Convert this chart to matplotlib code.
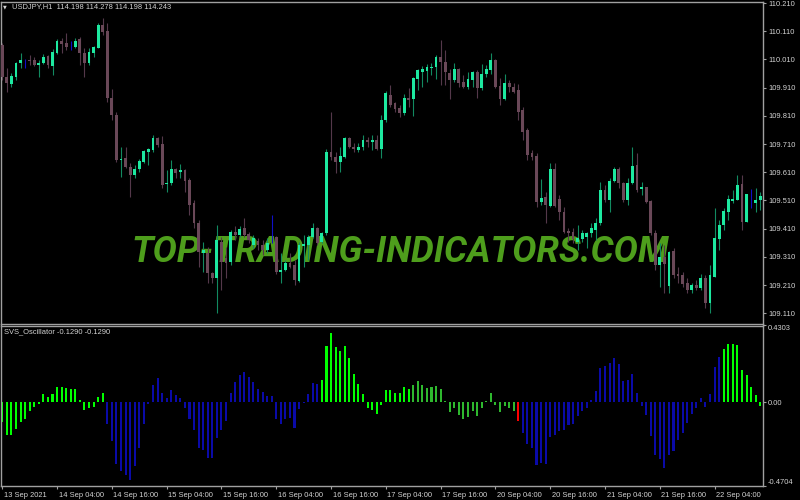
import matplotlib
matplotlib.use("Agg")
import matplotlib.pyplot as plt
import matplotlib.transforms as mtrans

# ---------------- data ----------------
opens = [110.061, 109.948, 109.923, 109.948, 109.997, 110.004, 110.008, 110.008, 109.990, 109.997,
         110.022, 109.987, 110.033, 110.075, 110.068, 110.061, 110.054, 110.083, 110.033, 109.997,
         110.033, 110.051, 110.132, 110.111, 109.873, 109.813, 109.653, 109.660, 109.628, 109.600,
         109.621, 109.646, 109.681, 109.689, 109.731, 109.710, 109.568, 109.571, 109.621, 109.610,
         109.618, 109.582, 109.500, 109.429, 109.323, 109.323, 109.252, 109.234, 109.362, 109.305,
         109.291, 109.397, 109.387, 109.412, 109.390, 109.351, 109.365, 109.351, 109.334, 109.376,
         109.380, 109.255, 109.263, 109.287, 109.280, 109.223, 109.348, 109.351, 109.380, 109.412,
         109.362, 109.394, 109.681, 109.664, 109.646, 109.664, 109.731, 109.699, 109.689, 109.699,
         109.724, 109.717, 109.724, 109.692, 109.795, 109.884, 109.855, 109.838, 109.820, 109.873,
         109.870, 109.941, 109.965, 109.969, 109.980, 109.983, 110.019, 110.001, 109.962, 109.937,
         109.976, 109.930, 109.912, 109.937, 109.965, 109.909, 109.958, 109.973, 110.008, 109.916,
         109.870, 109.926, 109.912, 109.902, 109.831, 109.760, 109.678, 109.667, 109.504, 109.522,
         109.490, 109.621, 109.515, 109.469, 109.401, 109.397, 109.362, 109.373, 109.380, 109.394,
         109.405, 109.429, 109.547, 109.511, 109.578, 109.621, 109.571, 109.511, 109.571, 109.635,
         109.550, 109.557, 109.507, 109.394, 109.280, 109.309, 109.206, 109.330, 109.248, 109.245,
         109.216, 109.191, 109.209, 109.199, 109.234, 109.145, 109.238, 109.373, 109.422, 109.469,
         109.507, 109.511, 109.568, 109.433, 109.518, 109.500, 109.511]
highs = [110.068, 109.980, 109.962, 110.001, 110.033, 110.012, 110.026, 110.019, 110.008, 110.029,
         110.026, 110.047, 110.083, 110.086, 110.104, 110.075, 110.086, 110.090, 110.051, 110.051,
         110.058, 110.139, 110.157, 110.139, 109.905, 109.823, 109.699, 109.699, 109.642, 109.635,
         109.657, 109.689, 109.696, 109.742, 109.735, 109.738, 109.618, 109.653, 109.625, 109.639,
         109.621, 109.589, 109.511, 109.440, 109.362, 109.344, 109.255, 109.422, 109.380, 109.344,
         109.405, 109.419, 109.419, 109.447, 109.397, 109.387, 109.376, 109.369, 109.376, 109.458,
         109.383, 109.323, 109.298, 109.323, 109.298, 109.362, 109.387, 109.387, 109.429, 109.415,
         109.397, 109.692, 109.823, 109.681, 109.699, 109.735, 109.735, 109.713, 109.713, 109.742,
         109.735, 109.742, 109.742, 109.813, 109.898, 109.919, 109.859, 109.848, 109.887, 109.909,
         109.948, 109.976, 109.987, 109.994, 109.997, 110.026, 110.079, 110.043, 109.976, 109.997,
         109.980, 109.955, 109.965, 109.969, 109.973, 109.994, 109.990, 110.033, 110.012, 109.944,
         109.958, 109.937, 109.926, 109.923, 109.841, 109.767, 109.689, 109.678, 109.586, 109.539,
         109.642, 109.642, 109.529, 109.486, 109.412, 109.412, 109.422, 109.405, 109.397, 109.429,
         109.447, 109.575, 109.564, 109.589, 109.628, 109.628, 109.575, 109.589, 109.699, 109.678,
         109.575, 109.557, 109.511, 109.405, 109.358, 109.351, 109.330, 109.341, 109.273, 109.255,
         109.234, 109.216, 109.227, 109.248, 109.245, 109.280, 109.483, 109.440, 109.483, 109.529,
         109.547, 109.600, 109.600, 109.532, 109.550, 109.554, 109.539]
lows = [109.937, 109.894, 109.912, 109.937, 109.980, 109.980, 109.990, 109.987, 109.948, 109.994,
        109.980, 109.955, 110.029, 110.033, 110.043, 110.043, 110.051, 109.990, 109.948, 109.990,
        110.019, 110.051, 110.097, 109.859, 109.795, 109.646, 109.593, 109.625, 109.522, 109.589,
        109.610, 109.642, 109.635, 109.681, 109.699, 109.554, 109.539, 109.564, 109.589, 109.589,
        109.539, 109.458, 109.412, 109.273, 109.255, 109.216, 109.216, 109.110, 109.191, 109.234,
        109.280, 109.369, 109.380, 109.380, 109.358, 109.341, 109.334, 109.316, 109.323, 109.358,
        109.248, 109.216, 109.259, 109.270, 109.209, 109.220, 109.273, 109.298, 109.376, 109.351,
        109.358, 109.387, 109.653, 109.607, 109.610, 109.660, 109.696, 109.681, 109.681, 109.689,
        109.699, 109.689, 109.689, 109.660, 109.788, 109.841, 109.823, 109.806, 109.813, 109.841,
        109.809, 109.902, 109.912, 109.930, 109.955, 109.941, 109.919, 109.919, 109.870, 109.930,
        109.912, 109.909, 109.905, 109.912, 109.873, 109.902, 109.948, 109.958, 109.909, 109.848,
        109.866, 109.894, 109.891, 109.795, 109.724, 109.653, 109.653, 109.486, 109.493, 109.429,
        109.486, 109.486, 109.440, 109.394, 109.362, 109.358, 109.334, 109.362, 109.341, 109.380,
        109.369, 109.422, 109.504, 109.469, 109.575, 109.554, 109.504, 109.493, 109.568, 109.539,
        109.529, 109.500, 109.387, 109.263, 109.202, 109.181, 109.181, 109.234, 109.216, 109.202,
        109.181, 109.181, 109.191, 109.191, 109.128, 109.110, 109.238, 109.334, 109.405, 109.440,
        109.500, 109.511, 109.405, 109.433, 109.483, 109.469, 109.476]
closes = [109.948, 109.926, 109.951, 109.997, 110.008, 110.004, 110.004, 109.990, 109.997, 110.019,
          109.990, 110.036, 110.075, 110.065, 110.054, 110.061, 110.075, 110.033, 109.997, 110.036,
          110.054, 110.132, 110.107, 109.873, 109.813, 109.653, 109.657, 109.628, 109.600, 109.621,
          109.649, 109.685, 109.692, 109.731, 109.706, 109.564, 109.571, 109.621, 109.607, 109.618,
          109.578, 109.493, 109.429, 109.327, 109.334, 109.252, 109.234, 109.369, 109.291, 109.287,
          109.397, 109.387, 109.408, 109.387, 109.369, 109.376, 109.351, 109.334, 109.358, 109.376,
          109.255, 109.263, 109.287, 109.273, 109.227, 109.351, 109.355, 109.380, 109.412, 109.358,
          109.394, 109.681, 109.664, 109.646, 109.667, 109.731, 109.699, 109.692, 109.699, 109.724,
          109.717, 109.724, 109.692, 109.795, 109.891, 109.848, 109.834, 109.820, 109.873, 109.866,
          109.944, 109.973, 109.976, 109.983, 109.983, 110.019, 110.001, 109.965, 109.937, 109.976,
          109.926, 109.912, 109.941, 109.965, 109.909, 109.958, 109.976, 110.008, 109.912, 109.870,
          109.926, 109.912, 109.894, 109.823, 109.752, 109.671, 109.664, 109.504, 109.518, 109.493,
          109.621, 109.490, 109.469, 109.397, 109.394, 109.373, 109.376, 109.394, 109.394, 109.412,
          109.429, 109.547, 109.511, 109.578, 109.621, 109.571, 109.511, 109.571, 109.632, 109.547,
          109.557, 109.504, 109.394, 109.280, 109.309, 109.284, 109.327, 109.245, 109.241, 109.213,
          109.191, 109.209, 109.199, 109.234, 109.145, 109.245, 109.376, 109.422, 109.472, 109.515,
          109.515, 109.564, 109.433, 109.532, 109.518, 109.511, 109.525]

osc = [-0.111, -0.186, -0.186, -0.149, -0.111, -0.096, -0.049, -0.026, -0.011, 0.045,
       0.030, 0.045, 0.087, 0.087, 0.081, 0.072, 0.072, 0.011, -0.045, -0.030,
       -0.026, 0.030, 0.049, -0.124, -0.218, -0.347, -0.384, -0.407, -0.435, -0.360,
       -0.256, -0.121, -0.011, 0.096, 0.134, 0.049, 0.021, 0.068, 0.040, 0.021,
       -0.030, -0.096, -0.154, -0.256, -0.267, -0.314, -0.314, -0.200, -0.158, -0.105,
       0.049, 0.115, 0.153, 0.168, 0.143, 0.115, 0.072, 0.058, 0.034, 0.034,
       -0.096, -0.124, -0.096, -0.087, -0.145, -0.041, -0.005, 0.045, 0.109, 0.102,
       0.124, 0.316, 0.388, 0.307, 0.288, 0.316, 0.247, 0.158, 0.102, 0.045,
       -0.032, -0.045, -0.068, -0.015, 0.068, 0.068, 0.049, 0.053, 0.083, 0.073,
       0.096, 0.119, 0.096, 0.081, 0.087, 0.090, 0.072, 0.009, -0.055, -0.030,
       -0.073, -0.096, -0.083, -0.049, -0.077, -0.032, 0.006, 0.049, -0.015, -0.055,
       -0.021, -0.032, -0.049, -0.107, -0.171, -0.237, -0.256, -0.350, -0.341, -0.347,
       -0.196, -0.186, -0.164, -0.158, -0.126, -0.121, -0.077, -0.049, -0.032, 0.015,
       0.064, 0.190, 0.203, 0.222, 0.250, 0.215, 0.121, 0.124, 0.156, 0.049,
       -0.023, -0.073, -0.190, -0.299, -0.318, -0.369, -0.294, -0.275, -0.215, -0.173,
       -0.117, -0.068, -0.030, 0.021, -0.026, 0.045, 0.196, 0.252, 0.298, 0.328,
       0.328, 0.322, 0.181, 0.153, 0.087, 0.040, -0.019]
# L = lime, G = green, B = blue, R = red
osc_state = ("LLLLLLLLLLLLLLLLLLLLLLL"
             "BBBBBBBBBBBBBBBBBBBBBBBBBBBBBBBBBBBBBBBBBBBBBBB"
             "LLLLLLLLLLLLLLLLLLLL"
             "GGGGGGGGGGGGGGGGGGGGGGG"
             "R"
             "BBBBBBBBBBBBBBBBBBBBBBBBBBBBBBBBBBBBBBBBBBBB"
             "LLLLLLLLL")

time_labels = ["13 Sep 2021", "14 Sep 04:00", "14 Sep 16:00", "15 Sep 04:00", "15 Sep 16:00",
               "16 Sep 04:00", "16 Sep 16:00", "17 Sep 04:00", "17 Sep 16:00", "20 Sep 04:00",
               "20 Sep 16:00", "21 Sep 04:00", "21 Sep 16:00", "22 Sep 04:00"]
time_label_bars = [0, 12, 24, 36, 48, 60, 72, 84, 96, 108, 120, 132, 144, 156]
price_ticks = [110.210, 110.110, 110.010, 109.910, 109.810, 109.710, 109.610,
               109.510, 109.410, 109.310, 109.210, 109.110]
osc_ticks = [0.4303, 0.0, -0.4704]
osc_tick_labels = ["0.4303", "0.00", "-0.4704"]
header = "USDJPY,H1  114.198 114.278 114.198 114.243"
osc_header = "SVS_Oscillator -0.1290 -0.1290"
watermark = "TOP-TRADING-INDICATORS.COM"

# ---------------- style ----------------
BG = "black"
FG = "#D4D4D4"
SPINE = "#A0A0A0"
BULL_BODY = "#1DE9A0"
BULL_WICK = "#128A60"
BEAR_BODY = "#6A4858"
BEAR_WICK = "#54384A"
DOJI = "#1010C8"
OSC_COL = {"L": "#00FF00", "G": "#2EB82E", "B": "#0A0AA8", "R": "#FF0000"}
SMALL_FONT = ["Liberation Sans", "DejaVu Sans"]
SMALL = 5.4

W, H = 800, 500
fig = plt.figure(figsize=(8, 5), dpi=100, facecolor=BG)


def rect(x0, y0, x1, y1):
    return [x0 / W, 1 - y1 / H, (x1 - x0) / W, (y1 - y0) / H]


ax = fig.add_axes(rect(1, 2, 763, 323.5))
ax2 = fig.add_axes(rect(1, 325.5, 763, 486), sharex=ax)
for a in (ax, ax2):
    a.set_facecolor(BG)
    for s in a.spines.values():
        s.set_color(SPINE)
        s.set_linewidth(1.0)

n = len(opens)
xs = list(range(n))
body_bottom, body_height, body_col, wick_col = [], [], [], []
for o, c in zip(opens, closes):
    body_bottom.append(min(o, c))
    body_height.append(abs(c - o))
    if c > o:
        body_col.append(BULL_BODY); wick_col.append(BULL_WICK)
    elif c < o:
        body_col.append(BEAR_BODY); wick_col.append(BEAR_WICK)
    else:
        body_col.append(DOJI); wick_col.append(DOJI)

ax.text(0.5245, 0.191, watermark, transform=ax.transAxes, ha="center", va="baseline",
        fontfamily="Roboto", fontweight="bold", fontstyle="italic", fontsize=26,
        color="#4E9E1C", zorder=1)
ax.vlines(xs, lows, highs, colors=wick_col, linewidth=0.8, zorder=2)
ax.bar(xs, body_height, bottom=body_bottom, width=0.62, color=body_col, linewidth=0, zorder=3)

ax.set_xlim(-0.28, 166.6)
ax.set_ylim(109.0736, 110.2136)
ax.yaxis.tick_right()
ax.set_yticks(price_ticks)
ax.set_yticklabels([f"{p:.3f}" for p in price_ticks], fontfamily=SMALL_FONT)
ax.tick_params(axis="y", colors=SPINE, labelcolor=FG, length=2.5, width=0.8, pad=1.2,
               labelsize=SMALL)
ax.tick_params(axis="x", bottom=False, labelbottom=False)

ax2.bar(xs, osc, width=0.45, color=[OSC_COL[s] for s in osc_state], linewidth=0)
ax2.set_ylim(-0.4704, 0.4303)
ax2.yaxis.tick_right()
ax2.set_yticks(osc_ticks)
ax2.set_yticklabels(osc_tick_labels, fontfamily=SMALL_FONT)
ax2.tick_params(axis="y", colors=SPINE, labelcolor=FG, length=2.5, width=0.8, pad=1.2,
                labelsize=SMALL)
ylabs = ax2.get_yticklabels()
ylabs[0].set_va("top")
ylabs[2].set_va("bottom")
ax2.set_xticks(time_label_bars)
ax2.set_xticklabels(time_labels, fontfamily=SMALL_FONT)
ax2.tick_params(axis="x", colors=SPINE, labelcolor=FG, length=2.5, width=0.8, pad=1.5,
                labelsize=SMALL)
off = mtrans.ScaledTranslation(1.5 / 100, 0, fig.dpi_scale_trans)
for lab in ax2.get_xticklabels():
    lab.set_ha("left")
    lab.set_transform(lab.get_transform() + off)

fig.text(3 / W, 1 - 7 / H, "\u25BC", fontsize=3.5, color=FG, va="center", ha="left",
         fontfamily="DejaVu Sans")
fig.text(12 / W, 1 - 7 / H, header, fontsize=SMALL, color=FG, va="center", ha="left",
         fontfamily=SMALL_FONT)
fig.text(4 / W, 1 - 332 / H, osc_header, fontsize=SMALL, color=FG, va="center", ha="left",
         fontfamily=SMALL_FONT)

fig.savefig("out.png", dpi=100, facecolor=BG)
